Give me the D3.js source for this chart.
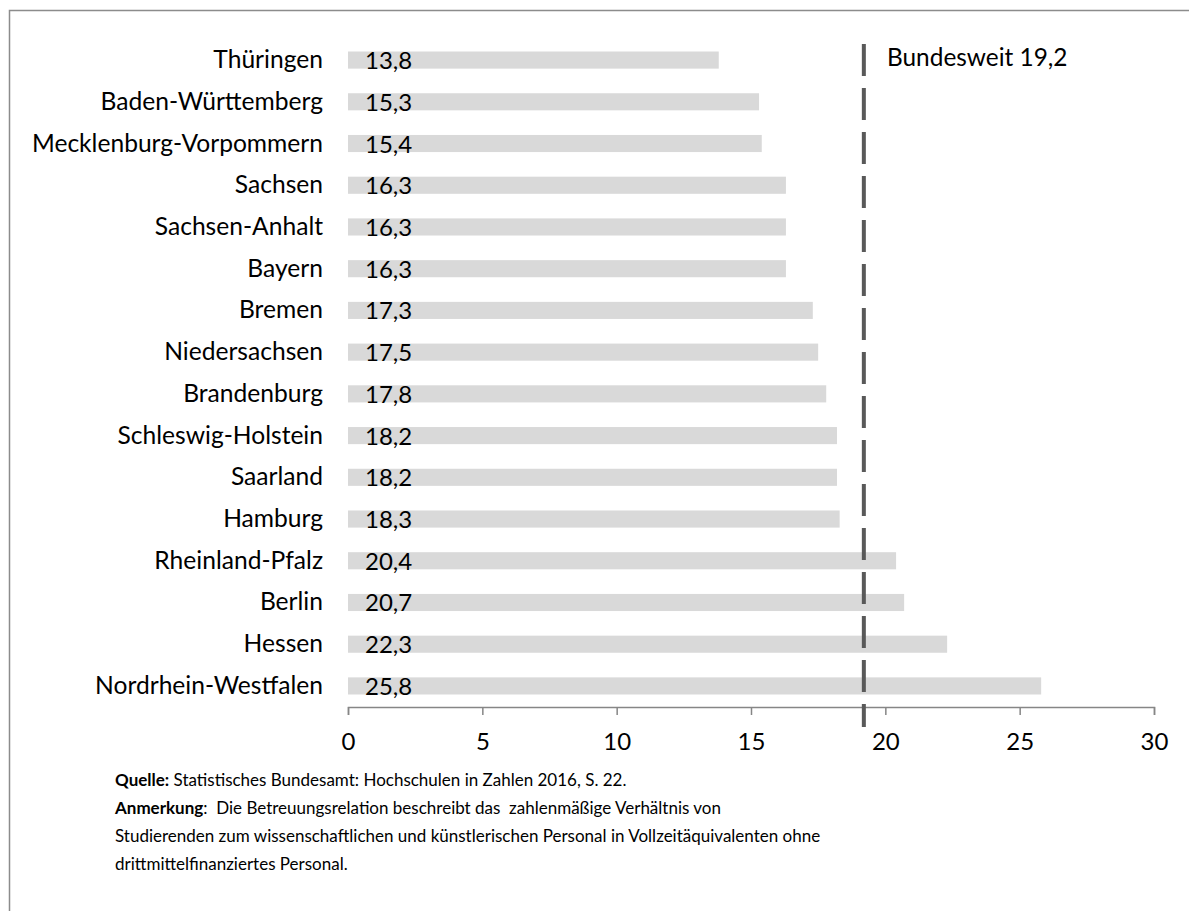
<!DOCTYPE html>
<meta charset="utf-8">
<html>
<script src="https://d3js.org/d3.v7.min.js"></script>
<style>
  body { margin: 0; background: #fff; }
  svg text { font-family: Lato, "Open Sans", sans-serif; fill: #000; }
</style>
<div id="chart"></div>
<script>

// data
var laender = ["Thüringen", "Baden-Württemberg", "Mecklenburg-Vorpommern", "Sachsen",
  "Sachsen-Anhalt", "Bayern", "Bremen", "Niedersachsen", "Brandenburg",
  "Schleswig-Holstein", "Saarland", "Hamburg", "Rheinland-Pfalz", "Berlin",
  "Hessen", "Nordrhein-Westfalen"];
var werte = [13.8, 15.3, 15.4, 16.3, 16.3, 16.3, 17.3, 17.5, 17.8, 18.2, 18.2, 18.3, 20.4, 20.7, 22.3, 25.8];
var xTicks = [0, 5, 10, 15, 20, 25, 30];
var bundesweit = 19.2;

var width = 1189,
    height = 911;

var svg = d3.select("#chart")
  .append("svg")
    .attr("width", width)
    .attr("height", height);

// outer frame (right and bottom edges run off the picture)
svg.append("rect")
    .attr("x", 9.5)
    .attr("y", 10.5)
    .attr("width", 1300)
    .attr("height", 1000)
    .attr("fill", "none")
    .attr("stroke", "#8c8c8c")
    .attr("stroke-width", 1.5);

var x = d3.scaleLinear()
    .domain([0, 30])
    .range([348, 1154]);

var y = d3.scaleBand()
    .domain(laender)
    .range([39, 707])
    .paddingInner(0.59)
    .paddingOuter(0.3);

var fmt = function(v) { return d3.format(".1f")(v).replace(".", ","); };

// bars
svg.selectAll("rect.bar")
  .data(werte)
  .enter().append("rect")
    .attr("class", "bar")
    .attr("x", x(0))
    .attr("y", function(d, i) { return y(laender[i]); })
    .attr("width", function(d) { return x(d) - x(0); })
    .attr("height", y.bandwidth())
    .attr("fill", "#d9d9d9");

// value labels inside the bars
svg.selectAll("text.val")
  .data(werte)
  .enter().append("text")
    .attr("class", "val")
    .attr("x", x(0) + 17)
    .attr("y", function(d, i) { return y(laender[i]) + y.bandwidth() / 2 + 9; })
    .style("font-size", "24px")
    .text(fmt);

// category labels
svg.selectAll("text.cat")
  .data(laender)
  .enter().append("text")
    .attr("class", "cat")
    .attr("x", 323)
    .attr("y", function(d) { return y(d) + y.bandwidth() / 2 + 8; })
    .attr("text-anchor", "end")
    .style("font-size", "24.6px")
    .text(function(d) { return d; });

// x axis
var axis = svg.append("g")
    .attr("transform", "translate(0,707)")
    .call(d3.axisBottom(x).tickValues(xTicks).tickSize(8));

axis.select(".domain").attr("stroke", "#868686").attr("stroke-width", 1.5);
axis.selectAll(".tick line").attr("stroke", "#868686").attr("stroke-width", 1.5);
axis.selectAll(".tick text")
    .attr("y", 43)
    .attr("dy", null)
    .style("font-family", "Lato, sans-serif")
    .style("font-size", "24px")
    .attr("fill", "#000");

// national average line
svg.append("line")
    .attr("x1", x(bundesweit))
    .attr("x2", x(bundesweit))
    .attr("y1", 44)
    .attr("y2", 727)
    .attr("stroke", "#595959")
    .attr("stroke-width", 4)
    .attr("stroke-dasharray", "32,12");

svg.append("text")
    .attr("x", 887)
    .attr("y", 66)
    .style("font-size", "24.4px")
    .text("Bundesweit " + fmt(bundesweit));

// notes
var notes = svg.append("g")
    .style("font-size", "17px");

var n1 = notes.append("text").attr("x", 115).attr("y", 786);
n1.append("tspan").style("font-weight", "bold").text("Quelle:");
n1.append("tspan").text(" Statistisches Bundesamt: Hochschulen in Zahlen 2016, S. 22.");

var n2 = notes.append("text").attr("x", 115).attr("y", 814).attr("xml:space", "preserve");
n2.append("tspan").style("font-weight", "bold").text("Anmerkung");
n2.append("tspan").text(":  Die Betreuungsrelation beschreibt das  zahlenmäßige Verhältnis von");

notes.append("text").attr("x", 115).attr("y", 842)
    .text("Studierenden zum wissenschaftlichen und künstlerischen Personal in Vollzeitäquivalenten ohne");

notes.append("text").attr("x", 115).attr("y", 870)
    .text("drittmittelfinanziertes Personal.");

</script>
</html>
